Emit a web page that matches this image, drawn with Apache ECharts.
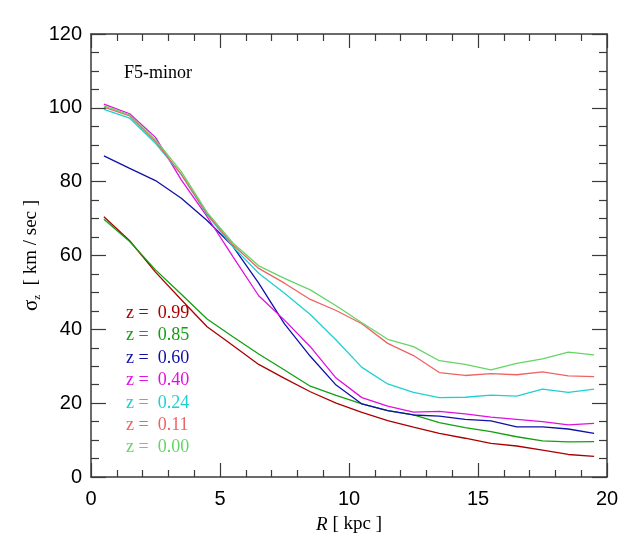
<!DOCTYPE html>
<html>
<head>
<meta charset="utf-8">
<script src="https://cdn.jsdelivr.net/npm/echarts@6/dist/echarts.min.js"></script>
<style>
  html, body { margin: 0; padding: 0; background: #fff; }
  #chart { width: 629px; height: 550px; }
</style>
</head>
<body>
<div id="chart"></div>
<script>
// radius bins (kpc)
const radius = [0.5, 1.5, 2.5, 3.5, 4.5, 5.5, 6.5, 7.5, 8.5, 9.5,
  10.5, 11.5, 12.5, 13.5, 14.5, 15.5, 16.5, 17.5, 18.5, 19.5];

const redshifts = ["0.99", "0.85", "0.60", "0.40", "0.24", "0.11", "0.00"];
const lineColors = ["#aa0000", "#11a011", "#1010a8", "#e010e0", "#20d0d0", "#ee6464", "#66d466"];

// sigma_z values, one list per redshift
const sigZ099 = [70.5, 64.0, 55.5, 48.0, 40.7, 35.6, 30.5, 26.7, 23.1, 20.0,
  17.5, 15.3, 13.5, 11.8, 10.5, 9.1, 8.4, 7.3, 6.1, 5.6];
const sigZ085 = [69.8, 63.8, 56.1, 49.5, 42.8, 38.0, 33.3, 29.0, 24.6, 22.1,
  19.8, 18.0, 16.8, 14.7, 13.4, 12.3, 10.9, 9.8, 9.5, 9.6];
const sigZ060 = [87.0, 83.6, 80.3, 75.5, 69.5, 62.5, 52.5, 41.5, 32.7, 24.9,
  19.8, 18.0, 16.8, 16.5, 15.6, 15.2, 13.6, 13.6, 13.0, 11.8];
const sigZ040 = [101.0, 98.4, 92.0, 80.5, 70.5, 59.7, 49.1, 42.5, 35.3, 26.8,
  21.5, 19.2, 17.6, 17.8, 17.1, 16.2, 15.6, 15.0, 14.1, 14.5];
const sigZ024 = [99.6, 97.2, 90.4, 81.9, 71.0, 62.4, 55.2, 49.8, 44.0, 37.1,
  29.7, 25.2, 22.9, 21.5, 21.6, 22.2, 21.9, 23.8, 22.9, 23.8];
const sigZ011 = [100.2, 97.8, 90.9, 82.0, 71.3, 62.9, 56.5, 52.5, 48.1, 45.1,
  41.5, 36.2, 32.9, 28.3, 27.5, 28.0, 27.7, 28.5, 27.4, 27.2];
const sigZ000 = [100.5, 98.1, 91.3, 82.7, 71.7, 63.4, 57.2, 53.8, 50.7, 46.4,
  41.8, 37.3, 35.3, 31.5, 30.5, 29.0, 30.8, 32.0, 33.8, 33.1];

const allSigma = [sigZ099, sigZ085, sigZ060, sigZ040, sigZ024, sigZ011, sigZ000];

const serifFont = "Liberation Serif";
const sansFont = "Liberation Sans";
const axisColor = "#3a3a3a";

function makeXAxis(pos, showLabel) {
  return {
    type: "value",
    position: pos,
    min: 0,
    max: 20,
    interval: 5,
    axisLine: { show: true, onZero: false, lineStyle: { color: axisColor, width: 1.5 } },
    axisTick: { show: true, inside: true, length: 14, lineStyle: { color: axisColor, width: 1.2 } },
    minorTick: { show: true, splitNumber: 5, length: 7, lineStyle: { color: axisColor, width: 1.2 } },
    splitLine: { show: false },
    axisLabel: {
      show: showLabel,
      margin: 12,
      fontFamily: sansFont,
      fontSize: 20,
      color: "#000"
    },
    name: showLabel ? "{i|R} [ kpc ]" : "",
    nameLocation: "middle",
    nameGap: 38,
    nameTextStyle: {
      fontFamily: serifFont,
      fontSize: 19,
      color: "#000",
      rich: { i: { fontFamily: serifFont, fontStyle: "italic", fontSize: 19, color: "#000" } }
    }
  };
}

function makeYAxis(pos, showLabel) {
  return {
    type: "value",
    position: pos,
    min: 0,
    max: 120,
    interval: 20,
    axisLine: { show: true, onZero: false, lineStyle: { color: axisColor, width: 1.5 } },
    axisTick: { show: true, inside: true, length: 15, lineStyle: { color: axisColor, width: 1.2 } },
    minorTick: { show: true, splitNumber: 4, length: 8, lineStyle: { color: axisColor, width: 1.2 } },
    splitLine: { show: false },
    axisLabel: {
      show: showLabel,
      margin: 9,
      fontFamily: sansFont,
      fontSize: 20,
      color: "#000"
    },
    name: showLabel ? "{s|σ}{sub|z}{t|  [ km / sec ]}" : "",
    nameLocation: "middle",
    nameRotate: 90,
    nameGap: 48,
    nameMoveOverlap: false,
    nameTextStyle: {
      color: "#000",
      rich: {
        s: { fontFamily: serifFont, fontSize: 21, color: "#000", lineHeight: 24, verticalAlign: "middle" },
        sub: { fontFamily: serifFont, fontSize: 11, color: "#000", lineHeight: 24, verticalAlign: "bottom" },
        t: { fontFamily: serifFont, fontSize: 19, color: "#000", lineHeight: 24, verticalAlign: "middle" }
      }
    }
  };
}

const series = redshifts.map((z, i) => ({
  name: "z =  " + z,
  type: "line",
  xAxisIndex: 0,
  yAxisIndex: 0,
  showSymbol: false,
  symbol: "none",
  data: radius.map((r, k) => [r, allSigma[i][k]]),
  lineStyle: { color: lineColors[i], width: 1.3 },
  itemStyle: { color: lineColors[i] }
}));

const chart = echarts.init(document.getElementById("chart"));
chart.setOption({
  animation: false,
  backgroundColor: "#fff",
  grid: { left: 91, right: 22, top: 34, bottom: 73 },
  xAxis: [makeXAxis("bottom", true), makeXAxis("top", false)],
  yAxis: [makeYAxis("left", true), makeYAxis("right", false)],
  legend: {
    orient: "vertical",
    left: 121,
    top: 302,
    padding: 0,
    itemGap: 0,
    itemWidth: 0,
    itemHeight: 22.4,
    icon: "none",
    selectedMode: false,
    data: redshifts.map((z, i) => ({
      name: "z =  " + z,
      textStyle: { color: lineColors[i] }
    })),
    textStyle: { fontFamily: serifFont, fontSize: 18, lineHeight: 22.4 }
  },
  graphic: [{
    type: "text",
    left: 124,
    top: 64,
    style: { text: "F5-minor", font: "18px 'Liberation Serif'", fill: "#000" }
  }],
  series: series
});
</script>
</body>
</html>
